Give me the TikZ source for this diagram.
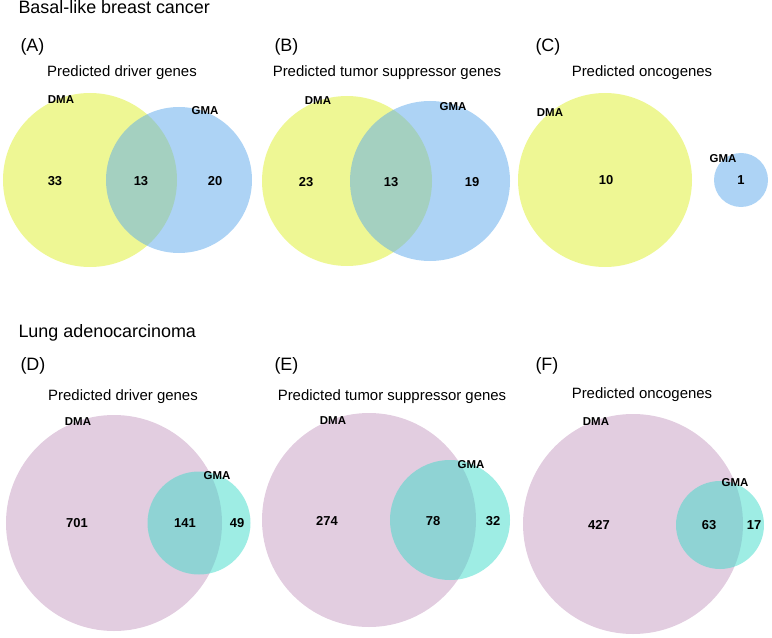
\documentclass[tikz,border=0pt]{standalone}
\usepackage{fontspec}
\setmainfont{Liberation Sans}
\usepackage{tikz}

\definecolor{dmayellow}{HTML}{DDF02A}
\definecolor{gmablue}{HTML}{5BA8EC}
\definecolor{dmapurple}{HTML}{C59BC1}
\definecolor{gmacyan}{HTML}{3DDBC9}

\begin{document}
\begin{tikzpicture}[x=1bp, y=-1bp,
    setc/.style={circle, draw=none, inner sep=0pt, outer sep=0pt, fill opacity=0.5, minimum size=#1},
    heading/.style={anchor=base west, font=\fontsize{18}{21}\selectfont},
    subtitle/.style={anchor=base, font=\fontsize{15}{18}\selectfont},
    count/.style={font=\fontsize{13}{15}\selectfont\bfseries},
    setname/.style={font=\fontsize{11.5}{13}\selectfont\bfseries}]
\useasboundingbox (0,0) rectangle (772,638);

                    % Headings
                    \node[heading] (basal) at (15,14) {Basal-like breast cancer};
                    \node[heading] (lung) at (15,337) {Lung adenocarcinoma};
                    \node[heading] (pA) at (17,52) {(A)};
                    \node[heading] (pB) at (271,52) {(B)};
                    \node[heading] (pC) at (532,52) {(C)};
                    \node[heading] (pD) at (17,370) {(D)};
                    \node[heading] (pE) at (271,370) {(E)};
                    \node[heading] (pF) at (532,370) {(F)};
                    \node[subtitle] (tA) at (122,77) {Predicted driver genes};
                    \node[subtitle] (tB) at (387,77) {Predicted tumor suppressor genes};
                    \node[subtitle] (tC) at (642,77) {Predicted oncogenes};
                    \node[subtitle] (tD) at (123,400) {Predicted driver genes};
                    \node[subtitle] (tE) at (392,400) {Predicted tumor suppressor genes};
                    \node[subtitle] (tF) at (642,398) {Predicted oncogenes};
                    % Circles
                    \node[setc=174bp, fill=dmayellow] (dmaA) at (90,180) {};
                    \node[setc=146bp, fill=gmablue] (gmaA) at (179,180) {};
                    \node[setc=170bp, fill=dmayellow] (dmaB) at (347,181) {};
                    \node[setc=160bp, fill=gmablue] (gmaB) at (430,181) {};
                    \node[setc=174bp, fill=dmayellow] (dmaC) at (605,180) {};
                    \node[setc=54bp, fill=gmablue] (gmaC) at (741,180) {};
                    \node[setc=216bp, fill=dmapurple] (dmaD) at (114,523) {};
                    \node[setc=103bp, fill=gmacyan] (gmaD) at (199,523) {};
                    \node[setc=214bp, fill=dmapurple] (dmaE) at (369,520) {};
                    \node[setc=120bp, fill=gmacyan] (gmaE) at (450,520) {};
                    \node[setc=220bp, fill=dmapurple] (dmaF) at (633,524) {};
                    \node[setc=88bp, fill=gmacyan] (gmaF) at (720,525) {};
                    % Set names
                    \node[setname] (dA) at (61,100) {DMA};
                    \node[setname] (gA) at (205,111) {GMA};
                    \node[setname] (dB) at (318,101) {DMA};
                    \node[setname] (gB) at (453,107) {GMA};
                    \node[setname] (dC) at (550,113) {DMA};
                    \node[setname] (gC) at (723,159) {GMA};
                    \node[setname] (dD) at (78,422) {DMA};
                    \node[setname] (gD) at (217,476) {GMA};
                    \node[setname] (dE) at (333,421) {DMA};
                    \node[setname] (gE) at (471,465) {GMA};
                    \node[setname] (dF) at (596,422) {DMA};
                    \node[setname] (gF) at (735,483) {GMA};
                    % Counts
                    \node[count] (nA1) at (55,181) {33};
                    \node[count] (nA2) at (141,181) {13};
                    \node[count] (nA3) at (215,181) {20};
                    \node[count] (nB1) at (306,182) {23};
                    \node[count] (nB2) at (391,182) {13};
                    \node[count] (nB3) at (472,182) {19};
                    \node[count] (nC1) at (606,180) {10};
                    \node[count] (nC2) at (741,180) {1};
                    \node[count] (nD1) at (77,523) {701};
                    \node[count] (nD2) at (185,523) {141};
                    \node[count] (nD3) at (237,523) {49};
                    \node[count] (nE1) at (327,521) {274};
                    \node[count] (nE2) at (433,521) {78};
                    \node[count] (nE3) at (493,521) {32};
                    \node[count] (nF1) at (599,525) {427};
                    \node[count] (nF2) at (709,525) {63};
                    \node[count] (nF3) at (754,525) {17};
                \end{tikzpicture}
\end{document}
